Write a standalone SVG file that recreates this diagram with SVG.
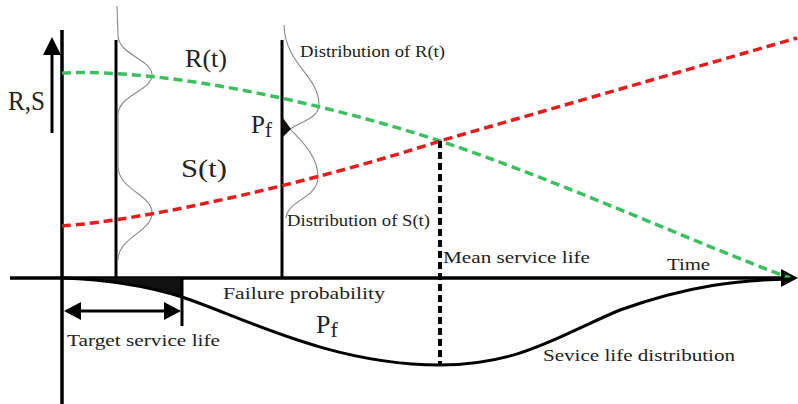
<svg xmlns="http://www.w3.org/2000/svg" width="798" height="404" viewBox="0 0 798 404">
<style>
.ax{stroke:#000;stroke-width:3.5;fill:none}
.vl{stroke:#000;stroke-width:3;fill:none}
.dist{stroke:#888;stroke-width:1.1;fill:none}
.g{stroke:#3cbf5e;stroke-width:3.5;fill:none;stroke-dasharray:9 5}
.r{stroke:#e61c1c;stroke-width:3.5;fill:none;stroke-dasharray:9 5}
.t{font-family:"Liberation Serif","DejaVu Serif",serif;fill:#222}
.s{font-size:17px}
.b{font-size:25px}
</style>
<rect width="798" height="404" fill="#fff"/>
<g id="axes">
<line class="ax" x1="62" y1="30" x2="62" y2="404"/>
<line class="ax" x1="10" y1="278" x2="786" y2="278"/>
<polygon points="798,278 781,269 781,287" fill="#000"/>
<line x1="52" y1="52" x2="52" y2="133" stroke="#000" stroke-width="3"/>
<polygon points="52,37 43,55 61,55" fill="#000"/>
<text class="t" x="8" y="110" font-size="27" textLength="37" lengthAdjust="spacingAndGlyphs">R,S</text>
<text class="t s" x="667" y="270" textLength="43" lengthAdjust="spacingAndGlyphs">Time</text>
</g>
<g id="section1">
<line class="vl" x1="116" y1="40" x2="116" y2="278"/>
<path class="dist" d="M117,6 L118,35 C118,55 152,59 152,75 C152,91 118,95 118,115 L118,166 C118,190 152,194 152,213 C152,232 118,237 118,260"/>
</g>
<g id="section2">
<line class="vl" x1="282" y1="40" x2="282" y2="278"/>
<path class="dist" d="M284,25 C285,65 319,75 319,105 C319,118 300,122 290,129 C300,140 318,155 318,177 C318,195 295,200 289,210 C287,213 286,215 286,218"/>
<polygon points="283,118 291,129 283,137" fill="#111"/>
<text class="t" x="251" y="133" font-size="25">P<tspan font-size="21" dy="4">f</tspan></text>
<text class="t s" x="300" y="57" textLength="145" lengthAdjust="spacingAndGlyphs">Distribution of R(t)</text>
<text class="t s" x="287" y="226" textLength="143" lengthAdjust="spacingAndGlyphs">Distribution of S(t)</text>
</g>
<g id="connectors">
<path class="g" d="M62,73 C170,68 330,105 440,141 C560,181 700,245 790,278"/>
<path class="r" d="M62,226 C150,220 320,180 440,141 L797,38"/>
<text class="t b" x="185" y="67" textLength="42" lengthAdjust="spacingAndGlyphs">R(t)</text>
<text class="t b" x="181" y="177" textLength="46" lengthAdjust="spacingAndGlyphs">S(t)</text>
</g>
<g id="mean">
<line x1="440" y1="141" x2="440" y2="366" stroke="#000" stroke-width="4" stroke-dasharray="7 4"/>
<text class="t s" x="443" y="263" textLength="147" lengthAdjust="spacingAndGlyphs">Mean service life</text>
</g>
<g id="lifedist">
<path d="M62,278 C120,280 160,290 182,297 L182,278 Z" fill="#111"/>
<path d="M62,278 C120,280 160,290 182,297 C240,316 330,365 440,365 C520,365 560,335 620,310 C690,285 740,280 790,279" stroke="#000" stroke-width="3" fill="none"/>
<text class="t s" x="223" y="299" textLength="162" lengthAdjust="spacingAndGlyphs">Failure probability</text>
<text class="t" x="316" y="333" font-size="26">P<tspan font-size="22" dy="4">f</tspan></text>
<text class="t s" x="543" y="361" textLength="192" lengthAdjust="spacingAndGlyphs">Sevice life distribution</text>
</g>
<g id="target">
<line x1="182" y1="278" x2="182" y2="326" stroke="#000" stroke-width="3"/>
<line x1="76" y1="311" x2="168" y2="311" stroke="#000" stroke-width="3"/>
<polygon points="64,311 81,302 81,320" fill="#000"/>
<polygon points="181,311 164,302 164,320" fill="#000"/>
<text class="t s" x="67" y="346" textLength="153" lengthAdjust="spacingAndGlyphs">Target service life</text>
</g>
</svg>
